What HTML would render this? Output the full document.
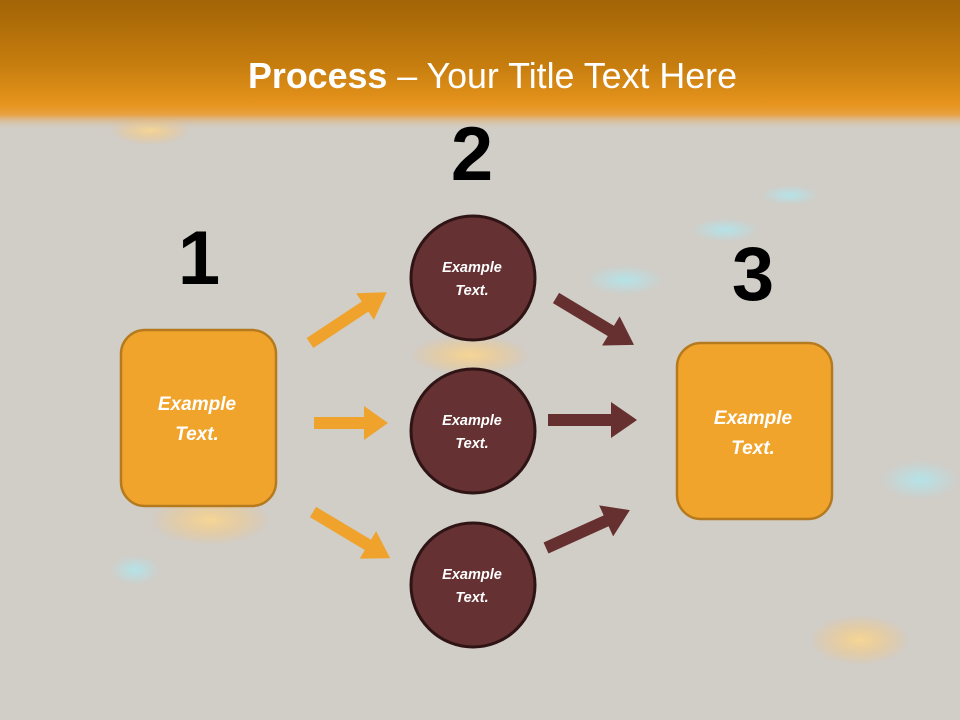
<!DOCTYPE html>
<html><head><meta charset="utf-8"><style>
html,body{margin:0;padding:0;width:960px;height:720px;overflow:hidden;}
</style></head><body>
<svg width="960" height="720" viewBox="0 0 960 720" xmlns="http://www.w3.org/2000/svg">
<defs>
<linearGradient id="hdr" x1="0" y1="0" x2="0" y2="1">
<stop offset="0" stop-color="#a26406"/>
<stop offset="0.5" stop-color="#c67d0e"/>
<stop offset="0.8" stop-color="#e6941c"/>
<stop offset="0.88" stop-color="#e8a040"/>
<stop offset="1" stop-color="#d2cdc6" stop-opacity="0"/>
</linearGradient>
<radialGradient id="glowc" cx="0.5" cy="0.5" r="0.5">
<stop offset="0" stop-color="#aee8f0" stop-opacity="0.8"/>
<stop offset="1" stop-color="#aee8f0" stop-opacity="0"/>
</radialGradient>
<radialGradient id="glowo" cx="0.5" cy="0.5" r="0.5">
<stop offset="0" stop-color="#ffd88a" stop-opacity="0.8"/>
<stop offset="1" stop-color="#ffc060" stop-opacity="0"/>
</radialGradient>
</defs>
<rect width="960" height="720" fill="#d1cdc7"/>
<ellipse cx="150" cy="130" rx="40" ry="15" fill="url(#glowo)"/>
<ellipse cx="470" cy="355" rx="60" ry="20" fill="url(#glowo)"/>
<ellipse cx="210" cy="520" rx="60" ry="25" fill="url(#glowo)"/>
<ellipse cx="860" cy="640" rx="50" ry="25" fill="url(#glowo)"/>
<ellipse cx="625" cy="280" rx="40" ry="15" fill="url(#glowc)"/>
<ellipse cx="725" cy="230" rx="35" ry="12" fill="url(#glowc)"/>
<ellipse cx="920" cy="480" rx="40" ry="20" fill="url(#glowc)"/>
<ellipse cx="135" cy="570" rx="25" ry="15" fill="url(#glowc)"/>
<ellipse cx="790" cy="195" rx="30" ry="10" fill="url(#glowc)"/>
<rect width="960" height="130" fill="url(#hdr)"/>
<text x="248" y="88" font-family="Liberation Sans, sans-serif" font-size="36" fill="#fff" textLength="489" lengthAdjust="spacingAndGlyphs"><tspan font-weight="bold">Process</tspan> – Your Title Text Here</text>

<g font-family="Liberation Sans, sans-serif" font-weight="bold" fill="#000" text-anchor="middle" font-size="76">
<text x="199" y="284">1</text>
<text x="472" y="180">2</text>
<text x="753" y="300">3</text>
</g>

<!-- orange arrows -->
<g fill="#efa32c">
<g transform="translate(310,343) rotate(-33.5)"><rect x="0" y="-6" width="70" height="12"/><polygon points="66,-16 92,0 66,16"/></g>
<g transform="translate(314,423)"><rect x="0" y="-6" width="52" height="12"/><polygon points="50,-17 74,0 50,17"/></g>
<g transform="translate(313,512) rotate(30.9)"><rect x="0" y="-6" width="68" height="12"/><polygon points="64,-16 90,0 64,16"/></g>
</g>
<!-- dark arrows -->
<g fill="#65302f">
<g transform="translate(556,298) rotate(31)"><rect x="0" y="-6" width="68" height="12"/><polygon points="64,-17 91,0 64,17"/></g>
<g transform="translate(548,420)"><rect x="0" y="-6" width="66" height="12"/><polygon points="63,-18 89,0 63,18"/></g>
<g transform="translate(546,548) rotate(-24.3)"><rect x="0" y="-6" width="70" height="12"/><polygon points="66,-17 92,0 66,17"/></g>
</g>

<rect x="121" y="330" width="155" height="176" rx="24" fill="#f0a42c" stroke="#b57a1e" stroke-width="2.5"/>
<rect x="677" y="343" width="155" height="176" rx="24" fill="#f0a42c" stroke="#b57a1e" stroke-width="2.5"/>

<g fill="#653133" stroke="#2e1414" stroke-width="3">
<circle cx="473" cy="278" r="62"/>
<circle cx="473" cy="431" r="62"/>
<circle cx="473" cy="585" r="62"/>
</g>

<g font-family="Liberation Sans, sans-serif" font-weight="bold" font-style="italic" fill="#fff" text-anchor="middle">
<g font-size="19">
<text x="197" y="410">Example</text><text x="197" y="440">Text.</text>
<text x="753" y="424">Example</text><text x="753" y="454">Text.</text>
</g>
<g font-size="14.5">
<text x="472" y="272">Example</text><text x="472" y="295">Text.</text>
<text x="472" y="425">Example</text><text x="472" y="448">Text.</text>
<text x="472" y="579">Example</text><text x="472" y="602">Text.</text>
</g>
</g>
</svg>
</body></html>
